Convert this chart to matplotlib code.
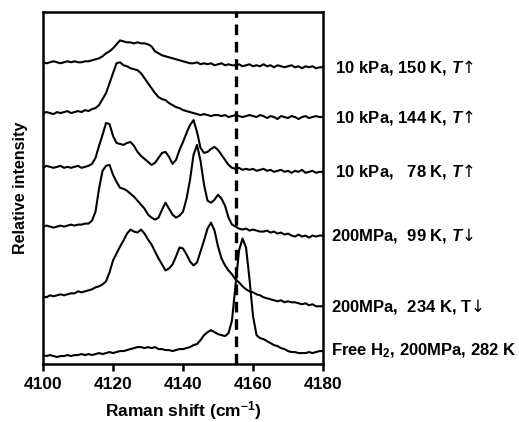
import numpy as np
import matplotlib
matplotlib.use("Agg")
import matplotlib.pyplot as plt

plt.rcParams['font.family'] = ['Liberation Sans', 'DejaVu Sans']
plt.rcParams['font.weight'] = 'bold'
plt.rcParams['mathtext.fontset'] = 'custom'
plt.rcParams['mathtext.rm'] = 'Liberation Sans:bold'
plt.rcParams['mathtext.it'] = 'Liberation Sans:italic:bold'
plt.rcParams['mathtext.bf'] = 'Liberation Sans:bold'
plt.rcParams['mathtext.sf'] = 'DejaVu Sans:weight=normal'

# Raman shift grid (cm^-1)
shift = np.arange(4100, 4181, 1)

# Relative intensities (arbitrary units above each trace's baseline)
free_h2_200mpa_282k = [
    0, -1, 0, -1, -2, -1, -1, 0, -1, 0,
    0, 1, 0, 1, 0, 1, 2, 1, 2, 3,
    2, 3, 4, 4, 5, 6, 7, 8, 8, 7,
    8, 7, 8, 6, 6, 5, 5, 4, 5, 6,
    6, 7, 8, 10, 11, 15, 20, 23, 25, 23,
    21, 20, 19, 22, 35, 70, 105, 117, 108, 76,
    39, 20, 17, 16, 14, 12, 10, 9, 7, 6,
    4, 3, 3, 2, 2, 2, 3, 2, 3, 4,
    4]
mpa200_234k = [
    0, -1, 1, 0, 1, 2, 1, 2, 3, 3,
    5, 4, 5, 6, 7, 9, 10, 12, 15, 24,
    36, 43, 50, 56, 63, 67, 65, 64, 67, 63,
    57, 52, 45, 38, 32, 26, 28, 32, 40, 49,
    48, 42, 35, 31, 34, 45, 56, 68, 74, 66,
    50, 38, 31, 26, 22, 17, 14, 10, 7, 5,
    4, 2, 1, -1, -2, -3, -4, -5, -4, -6,
    -5, -6, -6, -7, -8, -7, -9, -8, -10, -10,
    -10]
mpa200_99k = [
    0, 1, 0, -1, 0, 1, 0, 1, 2, 1,
    2, 2, 3, 3, 6, 15, 38, 56, 61, 62,
    52, 45, 39, 38, 36, 33, 30, 26, 22, 18,
    12, 9, 7, 9, 17, 24, 18, 12, 9, 11,
    15, 28, 47, 72, 82, 66, 42, 26, 24, 27,
    32, 28, 21, 9, 2, 0, -2, -3, -2, -4,
    -3, -4, -5, -5, -4, -6, -5, -7, -6, -8,
    -7, -9, -10, -8, -10, -9, -11, -9, -10, -9,
    -9]
kpa10_78k = [
    0, 2, 1, 0, 1, 2, 0, 1, 0, 1,
    2, 0, 1, 2, 4, 10, 22, 33, 45, 44,
    32, 25, 24, 23, 25, 26, 22, 16, 12, 9,
    6, 3, 5, 10, 15, 16, 11, 4, 8, 18,
    26, 35, 43, 48, 36, 20, 15, 16, 19, 21,
    18, 13, 8, 3, 0, -1, 0, -2, -1, -2,
    -1, -3, -2, -1, -3, -2, -4, -3, -2, -4,
    -3, -5, -3, -4, -2, -5, -4, -3, -5, -4,
    -4]
kpa10_144k = [
    0, 1, 0, -1, 1, 0, 1, 2, 0, 1,
    2, 1, 3, 2, 4, 5, 8, 14, 20, 30,
    40, 50, 51, 48, 47, 45, 44, 43, 40, 35,
    30, 25, 20, 16, 14, 13, 10, 8, 6, 5,
    3, 2, 1, 0, -1, -2, -1, -2, -3, -2,
    -2, -3, -2, -4, -3, -2, -3, -4, -3, -2,
    -3, -4, -2, -3, -5, -3, -4, -6, -3, -4,
    -5, -3, -4, -6, -4, -3, -5, -4, -3, -4,
    -4]
kpa10_150k = [
    0, -1, 0, 1, 0, -1, 0, 1, 0, 1,
    0, 0, 1, 1, 2, 3, 4, 6, 9, 11,
    14, 18, 22, 21, 20, 20, 19, 20, 19, 19,
    18, 16, 11, 9, 7, 6, 5, 4, 3, 2,
    1, 0, -1, -1, 0, -2, -1, -2, -1, -3,
    -2, -1, -3, -2, -3, -3, -2, -4, -3, -2,
    -4, -3, -4, -2, -4, -3, -5, -3, -4, -5,
    -4, -3, -5, -4, -6, -4, -5, -4, -6, -5,
    -5]

traces = [free_h2_200mpa_282k, mpa200_234k, mpa200_99k,
          kpa10_78k, kpa10_144k, kpa10_150k]
offsets = [9, 68, 138, 197, 252, 303]
labels = [
    r"Free H$_2$, 200MPa, 282 K",
    r"200MPa,  234 K, T$\mathsf{↓}$",
    r"200MPa,  99 K, $\mathit{T}\mathsf{↓}$",
    r" 10 kPa,   78 K, $\mathit{T}\mathsf{↑}$",
    r" 10 kPa, 144 K, $\mathit{T}\mathsf{↑}$",
    r" 10 kPa, 150 K, $\mathit{T}\mathsf{↑}$",
]
free_h2_line = 4155
xticks = [4100, 4120, 4140, 4160, 4180]

fig = plt.figure(figsize=(5.19, 4.22), dpi=100)
ax = fig.add_axes([0.0829, 0.1374, 0.5395, 0.8330])

for vals, off, lab in zip(traces, offsets, labels):
    y = np.array(vals) + off
    ax.plot(shift, y, color='black', lw=1.5, solid_joinstyle='round')
    ax.annotate(lab, xy=(shift[-1], y[-1]), xytext=(6, 0),
                textcoords='offset points', ha='left', va='center',
                fontsize=12, fontweight='bold', annotation_clip=False)

ax.axvline(free_h2_line, color='black', lw=2.4, dashes=(3.2, 2.0))

ax.set_xlim(4100, 4180)
ax.set_ylim(0, 353)
ax.set_xticks(xticks)
ax.set_xticklabels([str(t) for t in xticks], fontsize=12.5, fontweight='bold')
ax.set_yticks([])
ax.tick_params(axis='x', direction='out', length=5, width=1.8, pad=4)
for sp in ax.spines.values():
    sp.set_linewidth(1.8)

ax.set_xlabel(r"Raman shift (cm$^{\mathbf{-1}}$)", fontsize=12.5, fontweight='bold')
ax.xaxis.label.set_va('center')
ax.xaxis.set_label_coords(0.5, -0.133)
ax.set_ylabel("Relative intensity", fontsize=11.5, fontweight='bold')
ax.yaxis.set_label_coords(-0.055, 0.5)

fig.savefig("out.png", dpi=100, facecolor='white')
